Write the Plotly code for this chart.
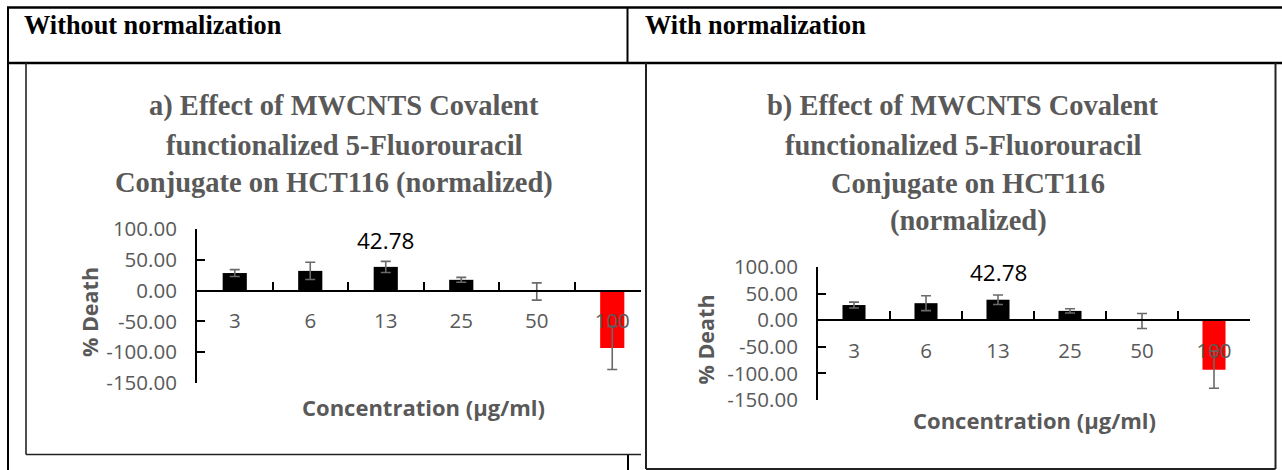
import plotly.graph_objects as go

# ---------------- data ----------------
categories = ["3", "6", "13", "25", "50", "100"]
death_pct = [28.5, 32.0, 38.5, 17.5, -1.5, -93.0]
death_err = [5.5, 14.0, 9.0, 4.0, 14.0, 35.0]
bar_colors = ["#000000", "#000000", "#000000", "#000000", "#000000", "#FF0000"]
y_tick_vals = [100, 50, 0, -50, -100, -150]
y_tick_text = ["100.00", "50.00", "0.00", "-50.00", "-100.00", "-150.00"]
label_text = "42.78"
label_category = "13"

header_left = "Without normalization"
header_right = "With normalization"
title_left = ["a) Effect of MWCNTS Covalent", "functionalized 5-Fluorouracil",
              "Conjugate on HCT116 (normalized)"]
title_right = ["b) Effect of MWCNTS Covalent", "functionalized 5-Fluorouracil",
               "Conjugate on HCT116", "(normalized)"]
x_title = "Concentration (µg/ml)"
y_title = "% Death"

# ---------------- layout helpers ----------------
W, H = 1282, 470
def px(x):
    return x / W
def py(y):
    return 1 - y / H

GRAY = "#595959"
SANS = "Open Sans"
SERIF = "Liberation Serif"

fig = go.Figure()

for i, xa in enumerate(["x", "x2"]):
    ya = "y" if i == 0 else "y2"
    fig.add_trace(go.Bar(
        x=categories, y=death_pct, xaxis=xa, yaxis=ya,
        marker=dict(color=bar_colors, line=dict(width=0)),
        width=0.32,
        error_y=dict(type="data", array=death_err, visible=True,
                     color="#6a6a6a", thickness=1.6, width=5),
        showlegend=False, hoverinfo="x+y",
    ))

# panel geometry (pixels)
L = dict(x0=197, x1=641, step=75.5, ytop=229, ybot=383)
R = dict(x0=818, x1=1250, step=72.0, ytop=267, ybot=400)

def zero_pix(p):
    return p["ytop"] + (p["ybot"] - p["ytop"]) * 100 / 250

def xaxis_cfg(p):
    return dict(
        type="category", categoryorder="array", categoryarray=categories,
        domain=[px(p["x0"]), px(p["x1"])],
        range=[-0.5, -0.5 + (p["x1"] - p["x0"]) / p["step"]],
        anchor="free", position=py(zero_pix(p)), automargin=False,
        showline=True, linecolor="#000000", linewidth=2,
        ticks="inside", tickson="boundaries", ticklen=8, tickwidth=1.5,
        tickcolor="#000000", showgrid=False, zeroline=False,
        tickfont=dict(family=SANS, size=20.5, color=GRAY),
        ticklabelstandoff=12, fixedrange=True,
    )

def yaxis_cfg(p, anchor):
    return dict(
        domain=[py(p["ybot"]), py(p["ytop"])],
        range=[-150, 100], anchor=anchor, automargin=False,
        showline=True, linecolor="#000000", linewidth=2,
        ticks="inside", ticklen=8, tickwidth=1.5, tickcolor="#000000",
        tickvals=y_tick_vals, ticktext=y_tick_text,
        showgrid=False, zeroline=False,
        tickfont=dict(family=SANS, size=20.5, color=GRAY),
        ticklabelstandoff=14, fixedrange=True,
    )

fig.update_layout(
    xaxis=xaxis_cfg(L), yaxis=yaxis_cfg(L, "x"),
    xaxis2=xaxis_cfg(R), yaxis2=yaxis_cfg(R, "x2"),
)

ann = []
# headers
ann.append(dict(text="<b>%s</b>" % header_left, x=px(22), y=py(26), xref="paper", yref="paper",
                xanchor="left", yanchor="middle", showarrow=False,
                font=dict(family=SERIF, size=26.3, color="#000000")))
ann.append(dict(text="<b>%s</b>" % header_right, x=px(643), y=py(26), xref="paper", yref="paper",
                xanchor="left", yanchor="middle", showarrow=False,
                font=dict(family=SERIF, size=26.3, color="#000000")))
# chart titles
left_centers = [(344, 106), (344, 145), (334, 183)]
for t, (cx, cy) in zip(title_left, left_centers):
    ann.append(dict(text="<b>%s</b>" % t, x=px(cx), y=py(cy), xref="paper", yref="paper",
                    xanchor="center", yanchor="middle", showarrow=False,
                    font=dict(family=SERIF, size=28.5, color=GRAY)))
right_centers = [(963, 106), (963, 145), (968, 183), (968, 221)]
for t, (cx, cy) in zip(title_right, right_centers):
    ann.append(dict(text="<b>%s</b>" % t, x=px(cx), y=py(cy), xref="paper", yref="paper",
                    xanchor="center", yanchor="middle", showarrow=False,
                    font=dict(family=SERIF, size=28.5, color=GRAY)))
# axis titles
for p, yt_x, xt_y in [(L, 89, 407), (R, 705, 420)]:
    ann.append(dict(text="<b>%s</b>" % x_title, x=px((p["x0"] + p["x0"] + 6 * p["step"]) / 2),
                    y=py(xt_y), xref="paper", yref="paper", xanchor="center", yanchor="middle",
                    showarrow=False, font=dict(family=SANS, size=22, color=GRAY)))
    ann.append(dict(text="<b>%s</b>" % y_title, x=px(yt_x), y=py((p["ytop"] + p["ybot"]) / 2 + 6),
                    xref="paper", yref="paper", xanchor="center", yanchor="middle",
                    textangle=-90, showarrow=False, font=dict(family=SANS, size=21.5, color=GRAY)))
# data label (positioned on the category's serial number)
label_idx = categories.index(label_category)
ann.append(dict(text=label_text, x=label_idx, y=81, xref="x", yref="y", showarrow=False,
                xanchor="center", yanchor="middle", font=dict(family=SANS, size=22.5, color="#000000")))
ann.append(dict(text=label_text, x=label_idx, y=89, xref="x2", yref="y2", showarrow=False,
                xanchor="center", yanchor="middle", font=dict(family=SANS, size=22.5, color="#000000")))

# table lines
def line(x0, y0, x1, y1, w=2, c="#000000"):
    return dict(type="line", xref="paper", yref="paper", x0=px(x0), y0=py(y0),
                x1=px(x1), y1=py(y1), line=dict(color=c, width=w), layer="above")

shapes = [
    line(7, 7.5, 1282, 7.5, 2.5),
    line(8, 7, 8, 470, 2),
    line(7, 63, 1282, 63, 2.5),
    line(627.5, 7, 627.5, 63, 2),
    line(628, 454, 628, 470, 2),
    # left chart frame (cropped on the right)
    line(26, 63, 26, 454.5, 1.6, "#222222"),
    line(26, 454.5, 641, 454.5, 1.6, "#222222"),
    # right chart frame
    line(646, 63, 646, 469, 2, "#222222"),
    line(1275.5, 63, 1275.5, 469, 2, "#222222"),
    line(646, 469, 1275.5, 469, 2, "#222222"),
]

fig.update_layout(
    width=W, height=H, autosize=False,
    margin=dict(l=0, r=0, t=0, b=0, pad=0, autoexpand=False),
    paper_bgcolor="#ffffff", plot_bgcolor="rgba(0,0,0,0)",
    annotations=ann, shapes=shapes, showlegend=False, bargap=0.68,
)

fig.write_html(
    "out.html",
    config={"responsive": False, "displayModeBar": False},
    post_script="document.body.style.margin='0';document.body.style.overflow='hidden';",
)
